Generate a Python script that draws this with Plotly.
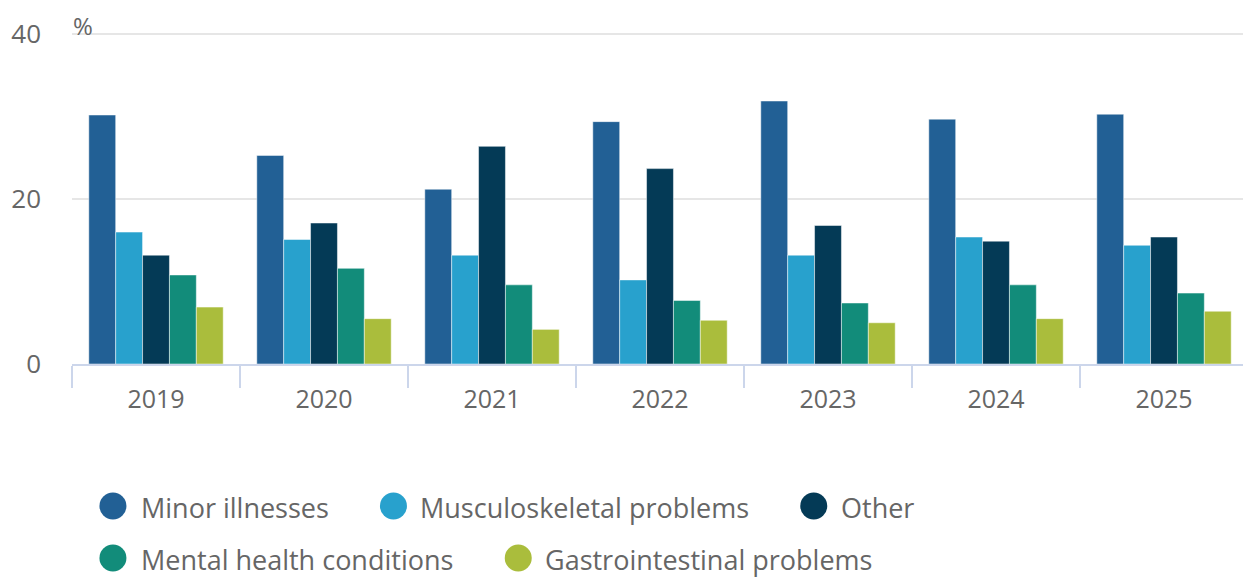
import plotly.graph_objects as go

years = ["2019", "2020", "2021", "2022", "2023", "2024", "2025"]
minor_illnesses = [30.2, 25.3, 21.2, 29.4, 31.9, 29.7, 30.3]
musculoskeletal = [16.0, 15.1, 13.2, 10.2, 13.2, 15.4, 14.4]
other = [13.2, 17.1, 26.4, 23.7, 16.8, 14.9, 15.4]
mental_health = [10.8, 11.6, 9.6, 7.7, 7.4, 9.6, 8.6]
gastrointestinal = [6.9, 5.5, 4.2, 5.3, 5.0, 5.5, 6.4]

series_names = ["Minor illnesses", "Musculoskeletal problems", "Other",
                "Mental health conditions", "Gastrointestinal problems"]
series_values = [minor_illnesses, musculoskeletal, other, mental_health, gastrointestinal]
colors = ["#226095", "#28a1cd", "#043a56", "#128c7a", "#aabd3c"]

# page offset (browser body margin) compensation
OFF = 8
W, H = 1251 - OFF, 577 - OFF
ML, MR, MT, MB = 70 - OFF, 3, 18, 213
PW, PH = W - ML - MR, H - MT - MB


def px(x):
    return (x - OFF - ML) / PW


def py(y):
    return (H - MB - (y - OFF)) / PH


fig = go.Figure()
for name, vals, col in zip(series_names, series_values, colors):
    fig.add_trace(go.Bar(
        x=years, y=vals, name=name,
        marker=dict(color=col, line=dict(color="rgba(255,255,255,0.6)", width=0.8)),
        showlegend=False,
    ))

# Manual legend (large circle symbols)
legend_pos = [(111, 506, 142), (392, 506, 422), (813, 506, 843),
              (111, 558, 142), (517, 558, 547)]
shapes = []
annotations = []
for (cx, cy, tx), name, col in zip(legend_pos, series_names, colors):
    shapes.append(dict(
        type="circle", xref="paper", yref="paper",
        xsizemode="pixel", ysizemode="pixel",
        xanchor=px(cx), yanchor=py(cy),
        x0=-13.5, x1=13.5, y0=-13.5, y1=13.5,
        fillcolor=col, line=dict(width=0),
    ))
    annotations.append(dict(
        text=name, xref="paper", yref="paper",
        x=px(tx - 4), y=py(cy + 1), xanchor="left", yanchor="middle",
        showarrow=False, borderpad=0, font=dict(size=27, color="#666666"),
    ))

annotations.append(dict(
    text="%", xref="paper", yref="paper", x=px(70), y=py(25),
    xanchor="left", yanchor="middle", showarrow=False, borderpad=0,
    font=dict(size=24, color="#666666"),
))

fig.update_layout(
    width=W, height=H,
    margin=dict(l=ML, r=MR, t=MT, b=MB),
    paper_bgcolor="white", plot_bgcolor="white",
    font=dict(family="Open Sans", color="#666666"),
    barmode="group", bargap=0.2, bargroupgap=0,
    shapes=shapes, annotations=annotations,
    xaxis=dict(
        type="category", showgrid=False,
        showline=True, linecolor="#ccd6eb", linewidth=2,
        ticks="outside", tickson="boundaries", ticklen=22,
        tickcolor="#ccd6eb", tickwidth=2,
        tickfont=dict(size=25, color="#666666"),
        ticklabelstandoff=12,
    ),
    yaxis=dict(
        range=[0, 41], dtick=20, tick0=0,
        showgrid=True, gridcolor="#e6e6e6", gridwidth=2,
        zeroline=False, showline=False,
        tickfont=dict(size=26, color="#666666"),
        ticklabelstandoff=30,
    ),
)

fig.write_html("out.html")
